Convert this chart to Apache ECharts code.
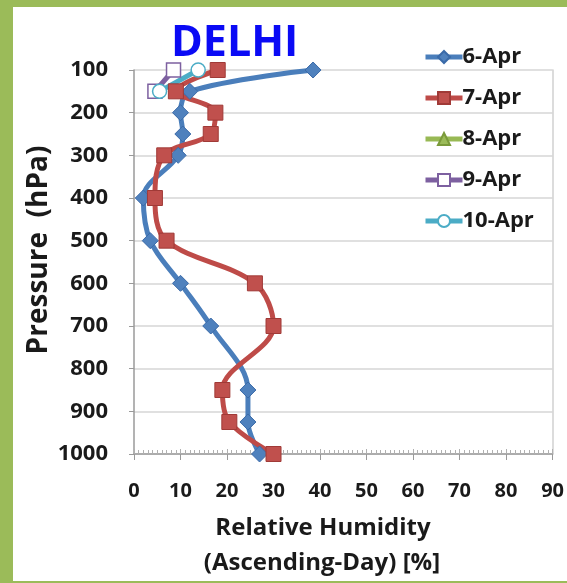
<!DOCTYPE html>
<html><head><meta charset="utf-8">
<script src="https://cdn.jsdelivr.net/npm/echarts@6/dist/echarts.min.js"></script>
<style>
html,body{margin:0;padding:0;background:#fff;}
#wrap{position:absolute;left:0;top:0;width:567px;height:583px;background:#9bbb59;}
#inner{position:absolute;left:13px;top:7px;width:554px;height:574px;background:#fff;}
#chart{position:absolute;left:0;top:0;width:567px;height:583px;}
</style></head>
<body>
<div id="wrap"><div id="inner"></div></div>
<div id="chart"></div>
<script>
const seriesNames = ['6-Apr','7-Apr','8-Apr','9-Apr','10-Apr'];
const p6 = [100,150,200,250,300,400,500,600,700,850,925,1000];
const rh6 = [38.5,12,10,10.5,9.5,2,3.5,10,16.5,24.5,24.5,27];
const p7 = [100,150,200,250,300,400,500,600,700,850,925,1000];
const rh7 = [18,9,17.5,16.5,6.5,4.5,7,26,30,19,20.5,30];
const p8 = [];
const rh8 = [];
const p9 = [100,150];
const rh9 = [8.5,4.5];
const p10 = [100,150];
const rh10 = [13.8,5.5];
const xTicks = [0,10,20,30,40,50,60,70,80,90];
const yTicks = [100,200,300,400,500,600,700,800,900,1000];

function pairs(xs, ys){ return xs.map((x,i)=>[x, ys[i]]); }

const chart = echarts.init(document.getElementById('chart'), null, {renderer:'canvas'});
const font = "'Open Sans', 'Noto Sans', sans-serif";
const txt = '#1a1a1a';

const option = {
  animation:false,
  backgroundColor:'transparent',
  title:{text:'DELHI', left:166, top:17, textStyle:{fontFamily:font, fontWeight:'bold', fontSize:43, color:'#0a0af5'}},
  legend:{
    orient:'vertical', left:418, top:41, itemWidth:37, itemHeight:15, itemGap:19,
    lineStyle:{width:5},
    textStyle:{fontFamily:font, fontWeight:'bold', fontSize:22, color:txt, padding:[0,0,0,-5]},
    data:seriesNames
  },
  grid:{left:134, right:12, top:70, bottom:129, containLabel:false},
  xAxis:[{
    type:'value', min:xTicks[0], max:xTicks[xTicks.length-1], interval:10, position:'bottom',
    axisLine:{show:true, onZero:false, lineStyle:{color:'#9a9a9a', width:1.5}},
    axisTick:{show:true, length:6, lineStyle:{color:'#9a9a9a'}},
    minorTick:{show:false},
    axisLabel:{margin:27, fontFamily:font, fontWeight:'bold', fontSize:20, color:txt, formatter:v=>String(v)},
    splitLine:{show:false}
  },{
    type:'value', min:xTicks[0], max:xTicks[xTicks.length-1], interval:10, position:'bottom',
    axisLine:{show:false, onZero:false},
    axisTick:{show:true, inside:true, length:5, lineStyle:{color:'#b0b0b0'}},
    minorTick:{show:true, splitNumber:10, length:4, lineStyle:{color:'#b0b0b0'}},
    axisLabel:{show:false},
    splitLine:{show:false}
  }],
  yAxis:[{
    type:'value', inverse:true, min:yTicks[0], max:yTicks[yTicks.length-1], interval:100,
    axisLine:{show:true, onZero:false, lineStyle:{color:'#9a9a9a', width:1.5}},
    axisTick:{show:true, length:5, lineStyle:{color:'#9a9a9a'}},
    axisLabel:{margin:26, fontFamily:font, fontWeight:'bold', fontSize:22, color:txt, formatter:v=>String(v)},
    splitLine:{show:true, lineStyle:{color:'#d6d6d6', width:1.5}}
  },{
    type:'value', inverse:true, min:yTicks[0], max:yTicks[yTicks.length-1], interval:100, position:'right',
    axisLine:{show:true, onZero:false, lineStyle:{color:'#d0d0d0', width:1.5}},
    axisTick:{show:false},
    axisLabel:{show:false}, splitLine:{show:false}
  }],
  graphic:[
    {type:'text', x:39, y:250, rotation:Math.PI/2, style:{text:'Pressure  (hPa)', fontFamily:font, fontWeight:'bold', fontSize:28, fill:txt, align:'center', verticalAlign:'middle'}},
    {type:'text', x:323, y:528, style:{text:'Relative Humidity', fontFamily:font, fontWeight:'bold', fontSize:24, fill:txt, align:'center', verticalAlign:'middle'}},
    {type:'text', x:322, y:563, style:{text:'(Ascending-Day) [%]', fontFamily:font, fontWeight:'bold', fontSize:24, fill:txt, align:'center', verticalAlign:'middle'}}
  ],
  series:[
    {name:seriesNames[0], type:'line', smooth:0.35, data:pairs(rh6,p6), symbol:'diamond', symbolSize:16,
     lineStyle:{color:'#4a7ebb', width:5}, itemStyle:{color:'#4f81bd', borderColor:'#3a6aa8', borderWidth:1}},
    {name:seriesNames[1], type:'line', smooth:0.35, data:pairs(rh7,p7), symbol:'rect', symbolSize:15,
     lineStyle:{color:'#be4b48', width:5}, itemStyle:{color:'#c0504d', borderColor:'#a03a37', borderWidth:1}},
    {name:seriesNames[2], type:'line', smooth:0.35, data:pairs(rh8,p8), symbol:'triangle', symbolSize:15,
     lineStyle:{color:'#98b954', width:5}, itemStyle:{color:'#9bbb59', borderColor:'#7a9a3a', borderWidth:1}},
    {name:seriesNames[3], type:'line', smooth:0.35, data:pairs(rh9,p9), symbol:'rect', symbolSize:14,
     lineStyle:{color:'#7d60a0', width:5}, itemStyle:{color:'#ffffff', borderColor:'#7d60a0', borderWidth:1.5}},
    {name:seriesNames[4], type:'line', smooth:0.35, data:pairs(rh10,p10), symbol:'circle', symbolSize:14,
     lineStyle:{color:'#4bacc6', width:5}, itemStyle:{color:'#ffffff', borderColor:'#4bacc6', borderWidth:1.5}}
  ]
};
chart.setOption(option);
</script>
</body></html>
